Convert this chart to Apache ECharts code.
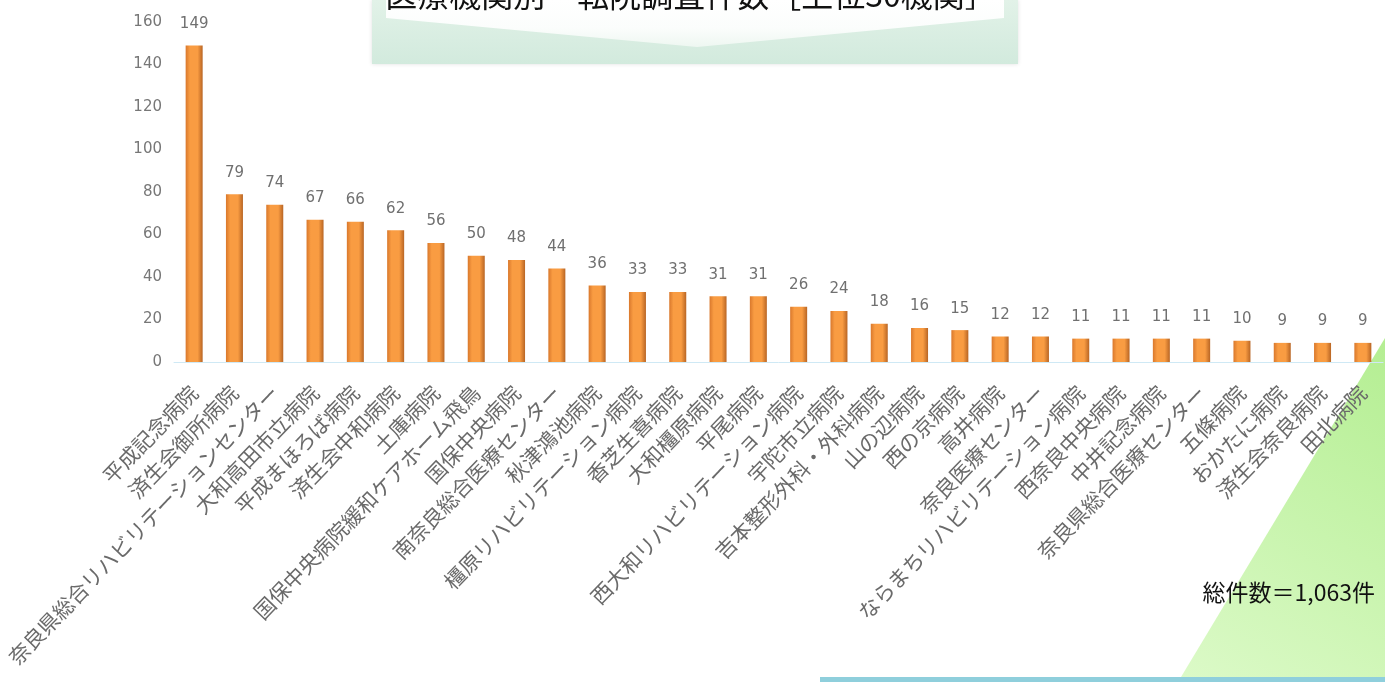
<!DOCTYPE html>
<html><head><meta charset="utf-8">
<script src="https://cdn.jsdelivr.net/npm/echarts@6/dist/echarts.min.js"></script>
<style>html,body{margin:0;padding:0;background:#fff}#c{width:1385px;height:682px}</style>
</head><body><div id="c"></div>
<script>
const categories = ['平成記念病院','済生会御所病院','奈良県総合リハビリテーションセンター','大和高田市立病院','平成まほろば病院','済生会中和病院','土庫病院','国保中央病院緩和ケアホーム飛鳥','国保中央病院','南奈良総合医療センター','秋津鴻池病院','橿原リハビリテーション病院','香芝生喜病院','大和橿原病院','平尾病院','西大和リハビリテーション病院','宇陀市立病院','吉本整形外科・外科病院','山の辺病院','西の京病院','高井病院','奈良医療センター','ならまちリハビリテーション病院','西奈良中央病院','中井記念病院','奈良県総合医療センター','五條病院','おかたに病院','済生会奈良病院','田北病院'];
const values = [149,79,74,67,66,62,56,50,48,44,36,33,33,31,31,26,24,18,16,15,12,12,11,11,11,11,10,9,9,9];
const yTicks = [0,20,40,60,80,100,120,140,160];
const titleText = '医療機関別　転院調査件数［上位30機関］';
const totalText = '総件数＝1,063件';

const chart = echarts.init(document.getElementById('c'));
chart.setOption({
  animation: false,
  graphic: [
    {type:'rect', z:-10, shape:{x:372,y:0,width:646,height:64},
     style:{fill:new echarts.graphic.LinearGradient(0,0,0,1,[{offset:0,color:'#e2f2e8'},{offset:1,color:'#d2eadd'}]), shadowBlur:4, shadowColor:'rgba(0,0,0,0.12)'}},
    {type:'polygon', z:-9, shape:{points:[[386,0],[1004,0],[1004,18],[697,47],[386,18]]},
     style:{fill:new echarts.graphic.LinearGradient(0,0,0,1,[{offset:0,color:'#ffffff'},{offset:0.6,color:'#fbfdfc'},{offset:1,color:'#eef7f1'}])}},
    {type:'text', z:10, x:691, y:11, style:{text:titleText, x:0, y:0, textAlign:'center', textVerticalAlign:'bottom', fontSize:32, fill:'#111', fontFamily:'Noto Sans CJK JP'}},
    {type:'polygon', z:-10, shape:{points:[[1385,338],[1385,682],[1178,682]]},
     style:{fill:new echarts.graphic.LinearGradient(1,0,0,1,[{offset:0,color:'#b4ee92'},{offset:1,color:'#dcfac8'}])}},
    {type:'rect', z:-8, shape:{x:820,y:677,width:565,height:5}, style:{fill:'#8fcfdc'}},
    {type:'text', z:10, x:1375, y:592, style:{text:totalText, x:0, y:0, textAlign:'right', textVerticalAlign:'middle', fontSize:23, fill:'#111', fontFamily:'Noto Sans CJK JP'}}
  ],
  grid: {left:174, right:2, top:22, bottom:320, containLabel:false},
  xAxis: {
    type:'category', data:categories,
    axisLine:{show:true, lineStyle:{color:'#cfe9f5', width:1}},
    axisTick:{show:false},
    axisLabel:{rotate:46, interval:0, fontSize:21, color:'#6a6a6a', fontFamily:'Noto Sans CJK JP', margin:27}
  },
  yAxis: {
    type:'value', min:0, max:160, interval:20,
    axisLine:{show:false}, axisTick:{show:false}, splitLine:{show:false},
    axisLabel:{color:'#777', fontSize:15, fontFamily:'DejaVu Sans', margin:12,
      formatter: v => yTicks.includes(v) ? String(v) : ''}
  },
  series: [{
    type:'bar', data:values, barWidth:17,
    itemStyle:{color:new echarts.graphic.LinearGradient(0,0,1,0,[{offset:0,color:'#d9782c'},{offset:0.25,color:'#f99c42'},{offset:0.7,color:'#f99c42'},{offset:1,color:'#b86524'}])},
    label:{show:true, position:'top', distance:14, color:'#707070', fontSize:15, fontFamily:'DejaVu Sans'}
  }]
});
</script></body></html>
